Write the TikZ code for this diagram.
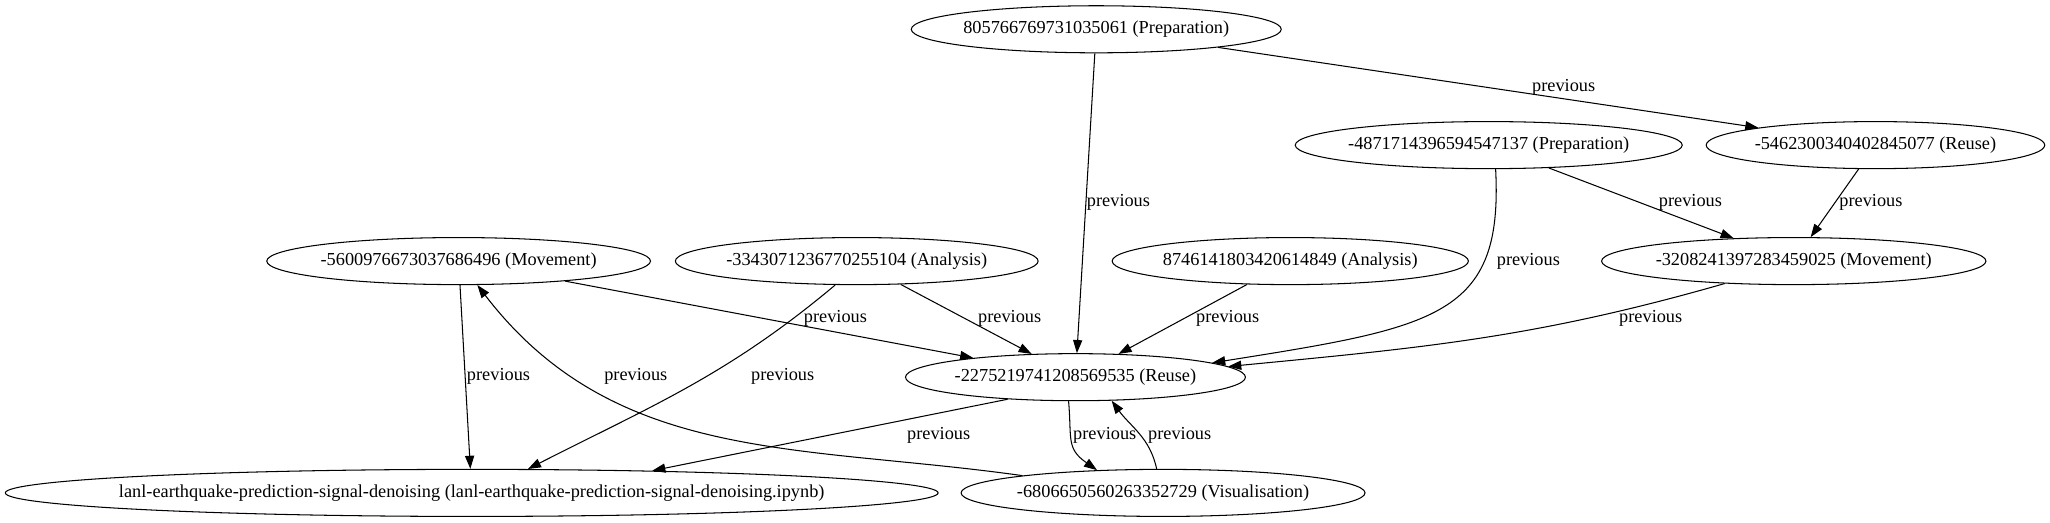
\documentclass[tikz,border=0pt]{standalone}
\usepackage{mathtools}
\usepackage{fontspec}
\setmainfont{Liberation Serif}
\usepackage{tikz}
\usetikzlibrary{positioning}
\usetikzlibrary{arrows.meta,shapes.geometric,topaths}
\tikzset{
    every picture/.style={>={Triangle[length=10pt,width=7pt]},line width=0.8pt},
}

\begin{document}
\begin{tikzpicture}[x=1pt,y=1pt,
  act/.style={ellipse,draw,minimum height=36pt,inner sep=0pt,font=\fontsize{14}{16}\selectfont},
  prev/.style={inner sep=0pt,font=\fontsize{14}{16}\selectfont}]
\useasboundingbox (0,0) rectangle (1568,400);
\node[act,minimum width=283pt] (p1) at (838.5,377.6) {\clap{805766769731035061 (Preparation)}};
\node[act,minimum width=296pt] (p2) at (1138.7,289) {\clap{-4871714396594547137 (Preparation)}};
\node[act,minimum width=259pt] (r1) at (1434.5,289) {\clap{-5462300340402845077 (Reuse)}};
\node[act,minimum width=293.5pt] (m1) at (350.8,200.3) {\clap{-5600976673037686496 (Movement)}};
\node[act,minimum width=277.5pt] (a1) at (655.3,200.3) {\clap{-3343071236770255104 (Analysis)}};
\node[act,minimum width=272.5pt] (a2) at (986.9,200.3) {\clap{8746141803420614849 (Analysis)}};
\node[act,minimum width=294pt] (m2) at (1372,200.3) {\clap{-3208241397283459025 (Movement)}};
\node[act,minimum width=260pt] (r2) at (822.6,111.5) {\clap{-2275219741208569535 (Reuse)}};
\node[act,minimum width=713.5pt] (nb) at (360.8,23) {\clap{lanl-earthquake-prediction-signal-denoising (lanl-earthquake-prediction-signal-denoising.ipynb)}};
\node[act,minimum width=309pt] (v1) at (889.6,23) {\clap{-6806650560263352729 (Visualisation)}};

\path (p1) edge[->] (r2)
(p1) edge[->] (r1)
(p2.286) edge[->,out=-87,in=9,out looseness=1.1,in looseness=1.7] (r2.6)
(p2) edge[->] (m2)
(r1) edge[->] (m2)
(a2) edge[->] (r2)
(m2.198) edge[->,out=196,in=5.5] (r2.4)
(m1) edge[->] (r2)
(a1) edge[->] (r2)
(m1) edge[->] (nb)
(a1.228) edge[->,out=220,in=27] (nb.23)
(v1.173) edge[->,out=172,in=-52.5] (m1.308)
(r2.198) edge[->] (nb.7)
(r2.254) edge[->,out=-85,in=145,looseness=1.3] (v1.161)
(v1.105) edge[->,out=102,in=-54] (r2.327)
;

\node[prev] (l1) at (855.5,245) {previous};
\node[prev] (l2) at (1196,333) {previous};
\node[prev] (l3) at (1169,200) {previous};
\node[prev] (l4) at (1293,245) {previous};
\node[prev] (l5) at (1431,245) {previous};
\node[prev] (l6) at (939,156.4) {previous};
\node[prev] (l7) at (1262.6,156.4) {previous};
\node[prev] (l8) at (639,156.4) {previous};
\node[prev] (l9) at (772.3,156.4) {previous};
\node[prev] (l10) at (381.3,112) {previous};
\node[prev] (l11) at (598.7,112) {previous};
\node[prev] (l12) at (486.3,112) {previous};
\node[prev] (l13) at (718,67.3) {previous};
\node[prev] (l14) at (845,67.3) {previous};
\node[prev] (l15) at (902.3,67.3) {previous};
\end{tikzpicture}
\end{document}
